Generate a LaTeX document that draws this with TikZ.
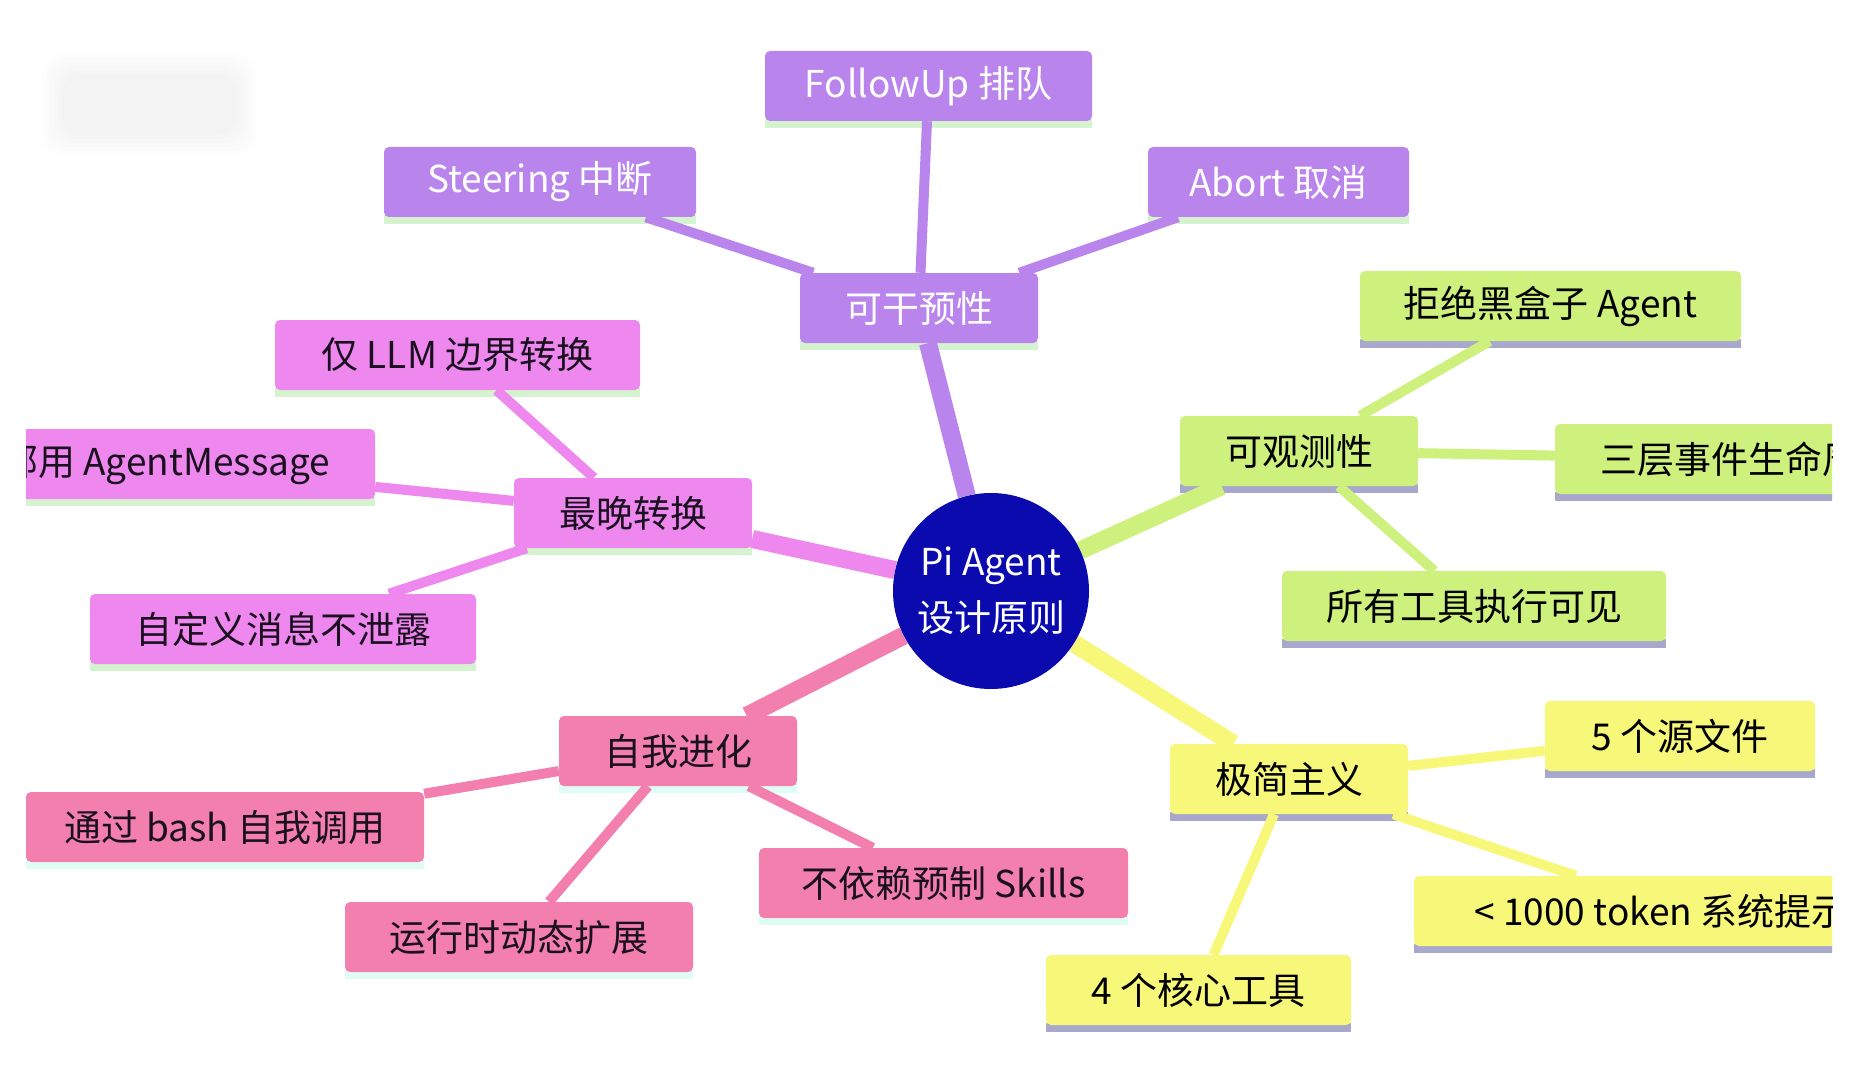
\documentclass[tikz,border=0pt]{standalone}
\usepackage{fontspec}
\setmainfont{Noto Sans CJK SC}
\usetikzlibrary{backgrounds}
\definecolor{pur}{HTML}{B985EC}
\definecolor{mag}{HTML}{EE88EE}
\definecolor{pnk}{HTML}{F27FAE}
\definecolor{grn}{HTML}{CEF07C}
\definecolor{yel}{HTML}{F7F77A}
\definecolor{navy}{HTML}{0A0AAE}
\definecolor{lav}{HTML}{A8A8CC}
\definecolor{mint}{HTML}{D5F3CF}
\definecolor{darktxt}{HTML}{1A1020}
\tikzset{
  box/.style={rounded corners=5pt, inner sep=0pt, minimum height=70pt,
    font=\fontsize{37}{40}\selectfont, anchor=center},
  pbox/.style={box, fill=pur, text=white},
  mbox/.style={box, fill=mag, text=darktxt},
  kbox/.style={box, fill=pnk, text=darktxt},
  gbox/.style={box, fill=grn, text=black},
  ybox/.style={box, fill=yel, text=black},
  mainline/.style={line width=18pt},
  subline/.style={line width=10pt},
}
\newcommand{\stripbox}[2]{\fill[#2] ([yshift=2pt]#1.south west) rectangle ([yshift=-7pt]#1.south east);}
\begin{document}
\begin{tikzpicture}[x=1pt,y=-1pt]
\useasboundingbox (0,0) rectangle (1866,1078);
\begin{scope}
\clip (26,0) rectangle (1832,1078);
% centre
\node[circle, fill=navy, text=white, minimum size=196pt, inner sep=0pt, align=center,
  font=\fontsize{37}{56}\selectfont] (c) at (991,591) {Pi Agent\\设计原则};
% purple branch
\node[pbox, minimum width=238pt] (pv) at (919,308) {可干预性};
\node[pbox, minimum width=327pt] (fu) at (928.5,86) {FollowUp 排队};
\node[pbox, minimum width=312pt] (st) at (540,182) {Steering 中断};
\node[pbox, minimum width=261pt] (ab) at (1278.5,182) {Abort 取消};
% green branch
\node[gbox, minimum width=238pt] (ob) at (1299,451) {可观测性};
\node[gbox, minimum width=381pt] (rj) at (1550.5,306) {拒绝黑盒子 Agent};
\node[gbox, minimum width=386pt] (sc) at (1748,459) {三层事件生命周期};
\node[gbox, minimum width=384pt] (sy) at (1474,606) {所有工具执行可见};
% yellow branch
\node[ybox, minimum width=238pt] (jj) at (1289,779) {极简主义};
\node[ybox, minimum width=270pt] (wu) at (1680,736) {5 个源文件};
\node[ybox, minimum width=532pt] (tk) at (1680,911) {< 1000 token 系统提示词};
\node[ybox, minimum width=305pt] (hx) at (1198.5,990) {4 个核心工具};
% magenta branch
\node[mbox, minimum width=238pt] (zw) at (633,513) {最晚转换};
\node[mbox, minimum width=365pt] (llm) at (457.5,355) {仅 LLM 边界转换};
\node[mbox, minimum width=456pt] (am) at (147,464) {全部用 AgentMessage};
\node[mbox, minimum width=386pt] (zd) at (283,629) {自定义消息不泄露};
% pink branch
\node[kbox, minimum width=238pt] (zj) at (678,751) {自我进化};
\node[kbox, minimum width=398pt] (bs) at (225,827) {通过 bash 自我调用};
\node[kbox, minimum width=348pt] (yx) at (519,937) {运行时动态扩展};
\node[kbox, minimum width=369pt] (by) at (943.5,883) {不依赖预制 Skills};
\end{scope}
\begin{scope}[on background layer]
\fill[white] (0,0) rectangle (1866,1078);
% faint smudge
\foreach \i in {0,...,5}{
  \fill[black, opacity=0.007, rounded corners=20pt] (42+4*\i,54+4*\i) rectangle (256-4*\i,155-4*\i);
}
\begin{scope}
\clip (26,0) rectangle (1832,1078);
% strips
\foreach \n in {pv,fu,st,ab,zw,llm,am,zd}{\stripbox{\n}{mint}}
\foreach \n in {zj,bs,yx,by}{\stripbox{\n}{mint!70!cyan!30}}
\foreach \n in {ob,rj,sc,sy,jj,wu,tk,hx}{\stripbox{\n}{lav}}
% connectors
\draw[pur, mainline] (c) -- (pv);
\draw[pur, subline] (pv) -- (fu);
\draw[pur, subline] (pv) -- (st);
\draw[pur, subline] (pv) -- (ab);
\draw[grn, mainline] (c) -- (ob);
\draw[grn, subline] (ob) -- (rj);
\draw[grn, subline] (ob) -- (sc);
\draw[grn, subline] (ob) -- (sy);
\draw[yel, mainline] (c) -- (jj);
\draw[yel, subline] (jj) -- (wu);
\draw[yel, subline] (jj) -- (tk);
\draw[yel, subline] (jj) -- (hx);
\draw[mag, mainline] (c) -- (zw);
\draw[mag, subline] (zw) -- (llm);
\draw[mag, subline] (zw) -- (am);
\draw[mag, subline] (zw) -- (zd);
\draw[pnk, mainline] (c) -- (zj);
\draw[pnk, subline] (zj) -- (bs);
\draw[pnk, subline] (zj) -- (yx);
\draw[pnk, subline] (zj) -- (by);
\end{scope}
\end{scope}
\end{tikzpicture}
\end{document}
